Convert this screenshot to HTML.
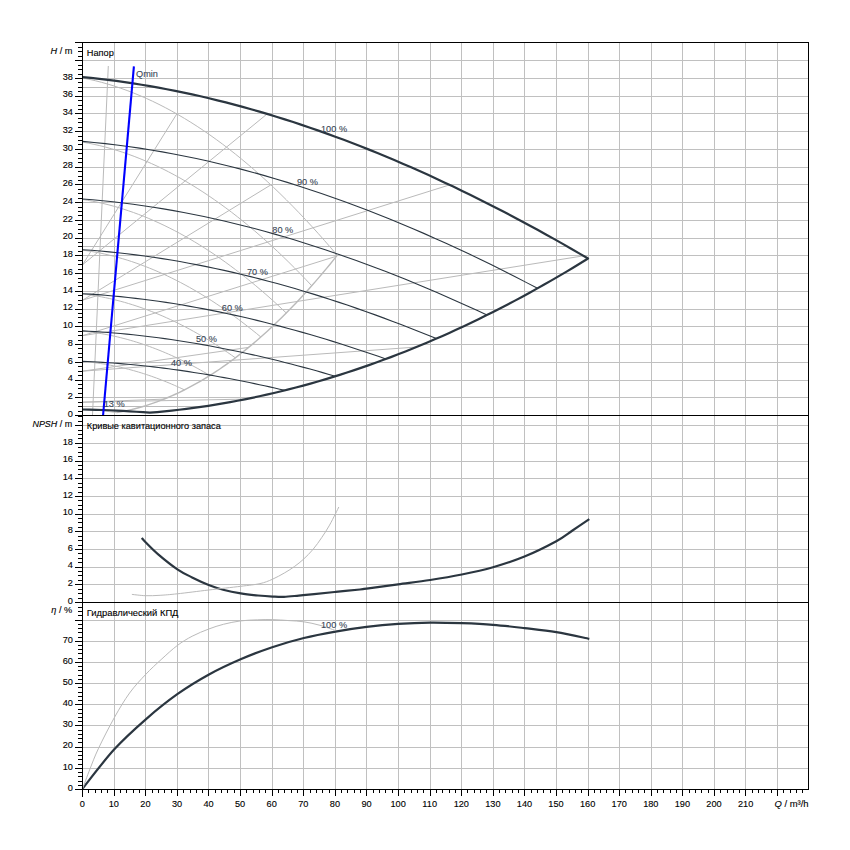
<!DOCTYPE html>
<html><head><meta charset="utf-8"><title>Pump curves</title>
<style>
html,body{margin:0;padding:0;background:#fff;}
body{width:850px;height:850px;position:relative;overflow:hidden;font-family:"Liberation Sans",sans-serif;}
#t div{font-family:"Liberation Sans",sans-serif;-webkit-text-stroke:0.12px currentColor;}
</style></head><body>
<svg width="850" height="850" viewBox="0 0 850 850" style="position:absolute;left:0;top:0">
<rect width="850" height="850" fill="#fff"/>
<path d="M114.5,42.5V789.5M145.5,42.5V789.5M177.5,42.5V789.5M208.5,42.5V789.5M240.5,42.5V789.5M272.5,42.5V789.5M303.5,42.5V789.5M335.5,42.5V789.5M366.5,42.5V789.5M398.5,42.5V789.5M430.5,42.5V789.5M461.5,42.5V789.5M493.5,42.5V789.5M524.5,42.5V789.5M556.5,42.5V789.5M588.5,42.5V789.5M619.5,42.5V789.5M651.5,42.5V789.5M682.5,42.5V789.5M714.5,42.5V789.5M745.5,42.5V789.5M777.5,42.5V789.5M82.5,397.5H808.5M82.5,380.5H808.5M82.5,362.5H808.5M82.5,344.5H808.5M82.5,326.5H808.5M82.5,309.5H808.5M82.5,291.5H808.5M82.5,273.5H808.5M82.5,255.5H808.5M82.5,238.5H808.5M82.5,220.5H808.5M82.5,202.5H808.5M82.5,184.5H808.5M82.5,167.5H808.5M82.5,149.5H808.5M82.5,131.5H808.5M82.5,113.5H808.5M82.5,96.5H808.5M82.5,78.5H808.5M82.5,60.5H808.5M82.5,584.5H808.5M82.5,567.5H808.5M82.5,549.5H808.5M82.5,531.5H808.5M82.5,514.5H808.5M82.5,496.5H808.5M82.5,478.5H808.5M82.5,461.5H808.5M82.5,443.5H808.5M82.5,425.5H808.5M82.5,768.5H808.5M82.5,747.5H808.5M82.5,725.5H808.5M82.5,704.5H808.5M82.5,683.5H808.5M82.5,662.5H808.5M82.5,641.5H808.5M82.5,620.5H808.5" stroke="#c0c0c0" stroke-width="1" fill="none" shape-rendering="crispEdges"/>
<path d="M116.46,412.67 L120.14,412.02 L123.82,411.30 L127.50,410.52 L131.18,409.67 L134.86,408.75 L138.54,407.77 L142.22,406.72 L145.90,405.60 L149.58,404.42 L153.26,403.17 L156.93,401.85 L160.61,400.46 L164.29,399.01 L167.97,397.49 L171.65,395.91 L175.33,394.25 L179.01,392.54 L182.69,390.75 L186.37,388.90 L190.05,386.98 L193.73,384.99 L197.41,382.94 L201.09,380.81 L204.76,378.63 L208.44,376.37 L212.12,374.05 L215.80,371.66 L219.48,369.21 L223.16,366.69 L226.84,364.10 L230.52,361.44 L234.20,358.72 L237.88,355.93 L241.56,353.07 L245.24,350.15 L248.91,347.16 L252.59,344.10 L256.27,340.98 L259.95,337.79 L263.63,334.53 L267.31,331.21 L270.99,327.81 L274.67,324.36 L278.35,320.83 L282.03,317.24 L285.71,313.58 L289.39,309.85 L293.07,306.06 L296.74,302.20 L300.42,298.27 L304.10,294.28 L307.78,290.22 L311.46,286.09 L315.14,281.90 L318.82,277.64 L322.50,273.31 L326.18,268.92 L329.86,264.45 L333.54,259.93 L337.22,255.33" stroke="#bababa" stroke-width="1.4" fill="none"/>
<path d="M82.60,77.97 L88.97,79.27 L95.33,80.73 L101.70,82.36 L108.06,84.16 L114.43,86.11 L120.79,88.24 L127.16,90.52 L133.52,92.97 L139.89,95.58 L146.25,98.36 L152.62,101.29 L158.98,104.39 L165.35,107.65 L171.72,111.07 L178.08,114.66 L184.45,118.40 L190.81,122.30 L197.18,126.36 L203.54,130.58 L209.91,134.96 L216.27,139.50 L222.64,144.20 L229.00,149.05 L235.37,154.06 L241.73,159.23 L248.10,164.55 L254.47,170.03 L260.83,175.67 L267.20,181.46 L273.56,187.41 L279.93,193.51 L286.29,199.77 L292.66,206.18 L299.02,212.74 L305.39,219.46 L311.75,226.33 L318.12,233.35 L324.48,240.53 L330.85,247.85 L337.22,255.33 M82.60,142.10 L88.33,143.15 L94.06,144.34 L99.79,145.66 L105.52,147.11 L111.24,148.70 L116.97,150.42 L122.70,152.27 L128.43,154.25 L134.16,156.37 L139.89,158.61 L145.62,160.99 L151.35,163.50 L157.08,166.14 L162.80,168.92 L168.53,171.82 L174.26,174.85 L179.99,178.01 L185.72,181.30 L191.45,184.72 L197.18,188.26 L202.91,191.94 L208.63,195.74 L214.36,199.68 L220.09,203.73 L225.82,207.92 L231.55,212.23 L237.28,216.67 L243.01,221.24 L248.74,225.93 L254.47,230.75 L260.19,235.69 L265.92,240.76 L271.65,245.95 L277.38,251.27 L283.11,256.71 L288.84,262.27 L294.57,267.96 L300.30,273.77 L306.03,279.71 L311.75,285.76 M82.60,199.48 L87.69,200.31 L92.78,201.25 L97.88,202.29 L102.97,203.44 L108.06,204.69 L113.15,206.05 L118.25,207.51 L123.34,209.08 L128.43,210.75 L133.52,212.53 L138.62,214.41 L143.71,216.39 L148.80,218.48 L153.89,220.67 L158.98,222.96 L164.08,225.35 L169.17,227.85 L174.26,230.45 L179.35,233.15 L184.45,235.96 L189.54,238.86 L194.63,241.87 L199.72,244.97 L204.82,248.18 L209.91,251.49 L215.00,254.89 L220.09,258.40 L225.18,262.01 L230.28,265.72 L235.37,269.52 L240.46,273.43 L245.55,277.43 L250.65,281.53 L255.74,285.73 L260.83,290.03 L265.92,294.43 L271.02,298.92 L276.11,303.52 L281.20,308.21 L286.29,312.99 M82.60,250.11 L87.06,250.75 L91.51,251.46 L95.97,252.26 L100.42,253.14 L104.88,254.10 L109.33,255.14 L113.79,256.26 L118.25,257.46 L122.70,258.74 L127.16,260.10 L131.61,261.54 L136.07,263.06 L140.53,264.66 L144.98,266.33 L149.44,268.09 L153.89,269.92 L158.35,271.83 L162.80,273.82 L167.26,275.89 L171.72,278.04 L176.17,280.26 L180.63,282.56 L185.08,284.94 L189.54,287.39 L193.99,289.93 L198.45,292.54 L202.91,295.22 L207.36,297.98 L211.82,300.82 L216.27,303.74 L220.73,306.73 L225.18,309.79 L229.64,312.93 L234.10,316.15 L238.55,319.44 L243.01,322.81 L247.46,326.25 L251.92,329.76 L256.38,333.35 L260.83,337.02 M82.60,293.99 L86.42,294.46 L90.24,294.98 L94.06,295.57 L97.88,296.22 L101.70,296.92 L105.52,297.68 L109.33,298.51 L113.15,299.39 L116.97,300.33 L120.79,301.33 L124.61,302.39 L128.43,303.50 L132.25,304.68 L136.07,305.91 L139.89,307.20 L143.71,308.54 L147.53,309.95 L151.35,311.41 L155.17,312.93 L158.98,314.51 L162.80,316.14 L166.62,317.83 L170.44,319.58 L174.26,321.38 L178.08,323.24 L181.90,325.16 L185.72,327.13 L189.54,329.16 L193.36,331.25 L197.18,333.39 L201.00,335.58 L204.82,337.84 L208.63,340.14 L212.45,342.51 L216.27,344.93 L220.09,347.40 L223.91,349.93 L227.73,352.51 L231.55,355.15 L235.37,357.84 M82.60,331.12 L85.78,331.44 L88.97,331.81 L92.15,332.22 L95.33,332.66 L98.51,333.15 L101.70,333.68 L104.88,334.26 L108.06,334.87 L111.24,335.52 L114.43,336.21 L117.61,336.95 L120.79,337.72 L123.98,338.54 L127.16,339.39 L130.34,340.29 L133.52,341.22 L136.71,342.20 L139.89,343.22 L143.07,344.27 L146.25,345.37 L149.44,346.50 L152.62,347.67 L155.80,348.89 L158.98,350.14 L162.17,351.43 L165.35,352.76 L168.53,354.13 L171.72,355.54 L174.90,356.99 L178.08,358.48 L181.26,360.00 L184.45,361.57 L187.63,363.17 L190.81,364.81 L193.99,366.49 L197.18,368.21 L200.36,369.96 L203.54,371.76 L206.73,373.59 L209.91,375.46 M82.60,361.50 L85.15,361.70 L87.69,361.94 L90.24,362.20 L92.78,362.48 L95.33,362.80 L97.88,363.14 L100.42,363.50 L102.97,363.90 L105.52,364.31 L108.06,364.76 L110.61,365.23 L113.15,365.72 L115.70,366.24 L118.25,366.79 L120.79,367.36 L123.34,367.96 L125.88,368.59 L128.43,369.24 L130.98,369.91 L133.52,370.61 L136.07,371.34 L138.62,372.09 L141.16,372.87 L143.71,373.67 L146.25,374.50 L148.80,375.35 L151.35,376.23 L153.89,377.13 L156.44,378.05 L158.98,379.01 L161.53,379.98 L164.08,380.98 L166.62,382.01 L169.17,383.06 L171.72,384.13 L174.26,385.23 L176.81,386.36 L179.35,387.50 L181.90,388.68 L184.45,389.87 M82.60,409.53 L83.45,409.55 L84.29,409.58 L85.14,409.61 L85.99,409.64 L86.83,409.67 L87.68,409.71 L88.53,409.75 L89.37,409.79 L90.22,409.84 L91.07,409.89 L91.91,409.94 L92.76,410.00 L93.61,410.05 L94.45,410.12 L95.30,410.18 L96.15,410.24 L96.99,410.31 L97.84,410.39 L98.69,410.46 L99.53,410.54 L100.38,410.62 L101.23,410.70 L102.07,410.79 L102.92,410.88 L103.76,410.97 L104.61,411.06 L105.46,411.16 L106.30,411.26 L107.15,411.36 L108.00,411.47 L108.84,411.57 L109.69,411.68 L110.54,411.80 L111.38,411.91 L112.23,412.03 L113.08,412.15 L113.92,412.28 L114.77,412.40 L115.62,412.53 L116.46,412.67 M82.60,402.19 L164.02,399.12 M82.60,402.19 L245.92,399.11 M82.60,371.15 L248.62,347.40 M82.60,371.15 L416.32,347.06 M82.60,335.67 L336.53,256.19 M82.60,335.67 L583.49,255.84 M82.60,300.19 L270.87,184.88 M82.60,300.19 L449.61,184.88 M82.60,264.71 L176.80,113.92 M82.60,264.71 L267.17,113.92 M82.60,406.50H202.74 M82.60,246.50H568.14 M82.60,87.50H156.63 M108.30,66.00 L92.50,415.00" stroke="#bababa" stroke-width="1" fill="none"/>
<path d="M82.60,141.40 L93.97,142.44 L105.34,143.64 L116.72,144.99 L128.09,146.49 L139.46,148.14 L150.83,149.93 L162.21,151.87 L173.58,153.95 L184.95,156.17 L196.32,158.54 L207.70,161.04 L219.07,163.69 L230.44,166.47 L241.81,169.39 L253.19,172.44 L264.56,175.62 L275.93,178.94 L287.30,182.38 L298.68,185.96 L310.05,189.66 L321.42,193.49 L332.79,197.44 L344.17,201.51 L355.54,205.71 L366.91,210.03 L378.28,214.47 L389.65,219.02 L401.03,223.69 L412.40,228.48 L423.77,233.38 L435.14,238.39 L446.52,243.52 L457.89,248.75 L469.26,254.09 L480.63,259.54 L492.01,265.09 L503.38,270.75 L514.75,276.51 L526.12,282.37 L537.50,288.33 M82.60,198.93 L92.71,199.75 L102.82,200.70 L112.93,201.76 L123.04,202.95 L133.14,204.25 L143.25,205.67 L153.36,207.20 L163.47,208.84 L173.58,210.60 L183.69,212.47 L193.80,214.45 L203.91,216.54 L214.01,218.73 L224.12,221.04 L234.23,223.45 L244.34,225.97 L254.45,228.59 L264.56,231.31 L274.67,234.13 L284.78,237.06 L294.88,240.08 L304.99,243.20 L315.10,246.42 L325.21,249.74 L335.32,253.15 L345.43,256.66 L355.54,260.26 L365.65,263.95 L375.76,267.73 L385.86,271.60 L395.97,275.56 L406.08,279.61 L416.19,283.75 L426.30,287.97 L436.41,292.27 L446.52,296.66 L456.63,301.13 L466.73,305.68 L476.84,310.31 L486.95,315.02 M82.60,249.69 L91.45,250.32 L100.29,251.04 L109.14,251.86 L117.98,252.77 L126.83,253.76 L135.67,254.85 L144.52,256.02 L153.36,257.28 L162.21,258.62 L171.05,260.05 L179.90,261.57 L188.74,263.17 L197.59,264.85 L206.43,266.62 L215.28,268.46 L224.12,270.39 L232.97,272.39 L241.81,274.48 L250.66,276.64 L259.50,278.88 L268.35,281.19 L277.19,283.59 L286.04,286.05 L294.88,288.59 L303.73,291.20 L312.58,293.89 L321.42,296.64 L330.27,299.47 L339.11,302.37 L347.96,305.33 L356.80,308.36 L365.65,311.46 L374.49,314.63 L383.34,317.86 L392.18,321.15 L401.03,324.51 L409.87,327.94 L418.72,331.42 L427.56,334.97 L436.41,338.57 M82.60,293.68 L90.18,294.14 L97.76,294.67 L105.34,295.27 L112.93,295.94 L120.51,296.67 L128.09,297.47 L135.67,298.33 L143.25,299.25 L150.83,300.24 L158.42,301.29 L166.00,302.41 L173.58,303.58 L181.16,304.82 L188.74,306.12 L196.32,307.47 L203.91,308.89 L211.49,310.36 L219.07,311.89 L226.65,313.48 L234.23,315.13 L241.81,316.83 L249.40,318.58 L256.98,320.40 L264.56,322.26 L272.14,324.18 L279.72,326.15 L287.30,328.18 L294.88,330.25 L302.47,332.38 L310.05,334.56 L317.63,336.79 L325.21,339.06 L332.79,341.39 L340.37,343.76 L347.96,346.18 L355.54,348.65 L363.12,351.17 L370.70,353.73 L378.28,356.33 L385.86,358.98 M82.60,330.90 L88.92,331.22 L95.24,331.59 L101.55,332.01 L107.87,332.47 L114.19,332.98 L120.51,333.53 L126.83,334.13 L133.14,334.77 L139.46,335.46 L145.78,336.19 L152.10,336.96 L158.42,337.78 L164.73,338.64 L171.05,339.54 L177.37,340.48 L183.69,341.46 L190.01,342.49 L196.32,343.55 L202.64,344.65 L208.96,345.80 L215.28,346.98 L221.60,348.20 L227.91,349.45 L234.23,350.75 L240.55,352.08 L246.87,353.45 L253.19,354.86 L259.50,356.30 L265.82,357.78 L272.14,359.29 L278.46,360.84 L284.78,362.42 L291.09,364.03 L297.41,365.68 L303.73,367.36 L310.05,369.08 L316.37,370.82 L322.68,372.60 L329.00,374.41 L335.32,376.25 M82.60,361.36 L87.65,361.56 L92.71,361.80 L97.76,362.07 L102.82,362.36 L107.87,362.69 L112.93,363.04 L117.98,363.42 L123.04,363.84 L128.09,364.27 L133.14,364.74 L138.20,365.24 L143.25,365.76 L148.31,366.31 L153.36,366.88 L158.42,367.49 L163.47,368.12 L168.52,368.77 L173.58,369.45 L178.63,370.16 L183.69,370.89 L188.74,371.65 L193.80,372.43 L198.85,373.23 L203.91,374.06 L208.96,374.91 L214.01,375.79 L219.07,376.69 L224.12,377.61 L229.18,378.56 L234.23,379.53 L239.29,380.52 L244.34,381.53 L249.40,382.56 L254.45,383.62 L259.50,384.69 L264.56,385.79 L269.61,386.91 L274.67,388.05 L279.72,389.20 L284.78,390.38" stroke="#2b3640" stroke-width="1.1" fill="none"/>
<path d="M82.60,77.10 L91.02,77.94 L99.45,78.87 L107.87,79.87 L116.30,80.96 L124.72,82.13 L133.14,83.39 L141.57,84.72 L149.99,86.14 L158.42,87.63 L166.84,89.21 L175.26,90.86 L183.69,92.60 L192.11,94.41 L200.54,96.30 L208.96,98.26 L217.38,100.31 L225.81,102.43 L234.23,104.62 L242.66,106.89 L251.08,109.24 L259.50,111.65 L267.93,114.15 L276.35,116.71 L284.78,119.35 L293.20,122.06 L301.62,124.85 L310.05,127.70 L318.47,130.62 L326.90,133.62 L335.32,136.68 L343.74,139.82 L352.17,143.02 L360.59,146.29 L369.02,149.63 L377.44,153.03 L385.86,156.50 L394.29,160.04 L402.71,163.64 L411.14,167.31 L419.56,171.04 L427.98,174.84 L436.41,178.70 L444.83,182.63 L453.26,186.61 L461.68,190.66 L470.10,194.77 L478.53,198.94 L486.95,203.18 L495.38,207.47 L503.80,211.82 L512.22,216.23 L520.65,220.70 L529.07,225.23 L537.50,229.81 L545.92,234.45 L554.34,239.15 L562.77,243.91 L571.19,248.72 L579.62,253.58 L588.04,258.50 L588.04,258.50 L580.74,263.01 L573.43,267.45 L566.13,271.82 L558.83,276.13 L551.52,280.37 L544.22,284.55 L536.91,288.66 L529.61,292.70 L522.31,296.68 L515.00,300.60 L507.70,304.45 L500.40,308.23 L493.09,311.95 L485.79,315.60 L478.49,319.19 L471.18,322.71 L463.88,326.16 L456.58,329.55 L449.27,332.88 L441.97,336.14 L434.66,339.33 L427.36,342.46 L420.06,345.52 L412.75,348.51 L405.45,351.45 L398.15,354.31 L390.84,357.11 L383.54,359.84 L376.24,362.51 L368.93,365.12 L361.63,367.65 L354.32,370.13 L347.02,372.53 L339.72,374.87 L332.41,377.15 L325.11,379.36 L317.81,381.50 L310.50,383.58 L303.20,385.59 L295.90,387.54 L288.59,389.42 L281.29,391.24 L273.98,392.99 L266.68,394.68 L259.38,396.30 L252.07,397.85 L244.77,399.34 L237.47,400.76 L230.16,402.12 L222.86,403.41 L215.56,404.64 L208.25,405.80 L200.95,406.89 L193.65,407.92 L186.34,408.89 L179.04,409.78 L171.73,410.62 L164.43,411.38 L157.13,412.09 L149.82,412.72 L149.82,412.72 L143.10,412.22 L136.38,411.74 L129.66,411.31 L122.93,410.92 L116.21,410.57 L109.49,410.26 L102.77,410.00 L96.04,409.79 L89.32,409.63 L82.60,409.51" stroke="#2b3640" stroke-width="2.2" fill="none" stroke-linejoin="round"/>
<path d="M133.9,66.3L103.1,415" stroke="#0000ff" stroke-width="2.1" fill="none"/>
<path d="M141.70,537.90 C142.35,538.62 142.85,539.47 145.60,542.20 C148.35,544.93 152.90,549.78 158.20,554.30 C163.50,558.82 171.75,565.45 177.40,569.30 C183.05,573.15 186.88,574.80 192.10,577.40 C197.32,580.00 203.37,582.80 208.70,584.90 C214.03,587.00 218.77,588.58 224.10,590.00 C229.43,591.42 235.05,592.48 240.70,593.40 C246.35,594.32 252.67,594.97 258.00,595.50 C263.33,596.03 268.37,596.37 272.70,596.60 C277.03,596.83 279.65,597.07 284.00,596.90 C288.35,596.73 293.78,596.07 298.80,595.60 C303.82,595.13 307.97,594.72 314.10,594.10 C320.23,593.48 327.95,592.67 335.60,591.90 C343.25,591.13 354.83,590.05 360.00,589.50 C365.17,588.95 360.25,589.47 366.60,588.60 C372.95,587.73 387.50,585.73 398.10,584.30 C408.70,582.87 419.58,581.63 430.20,580.00 C440.82,578.37 451.33,576.63 461.80,574.50 C472.27,572.37 482.55,570.20 493.00,567.20 C503.45,564.20 513.95,560.83 524.50,556.50 C535.05,552.17 548.30,545.53 556.30,541.20 C564.30,536.87 567.00,534.17 572.50,530.50 C578.00,526.83 586.50,521.08 589.30,519.20" stroke="#2b3640" stroke-width="2.2" fill="none" stroke-linejoin="round"/>
<path d="M131.90,594.40 C134.18,594.62 140.90,595.55 145.60,595.70 C150.30,595.85 154.80,595.62 160.10,595.30 C165.40,594.98 169.30,594.68 177.40,593.80 C185.50,592.92 198.15,591.25 208.70,590.00 C219.25,588.75 232.15,587.37 240.70,586.30 C249.25,585.23 254.73,584.77 260.00,583.60 C265.27,582.43 268.18,581.10 272.30,579.30 C276.42,577.50 280.98,574.95 284.70,572.80 C288.42,570.65 291.47,568.67 294.60,566.40 C297.73,564.13 300.42,562.05 303.50,559.20 C306.58,556.35 310.07,552.90 313.10,549.30 C316.13,545.70 319.03,541.50 321.70,537.60 C324.37,533.70 326.78,529.92 329.10,525.90 C331.42,521.88 333.98,516.65 335.60,513.50 C337.22,510.35 338.27,508.08 338.80,507.00" stroke="#bababa" stroke-width="1" fill="none" stroke-linejoin="round"/>
<path d="M82.50,788.60 C87.80,782.05 103.75,760.85 114.30,749.30 C124.85,737.75 135.30,728.48 145.80,719.30 C156.30,710.12 166.77,701.67 177.30,694.20 C187.83,686.73 198.45,680.32 209.00,674.50 C219.55,668.68 230.07,663.85 240.60,659.30 C251.13,654.75 261.65,650.75 272.20,647.20 C282.75,643.65 293.35,640.60 303.90,638.00 C314.45,635.40 325.05,633.45 335.50,631.60 C345.95,629.75 356.17,628.18 366.60,626.90 C377.03,625.62 387.50,624.62 398.10,623.90 C408.70,623.18 419.60,622.72 430.20,622.60 C440.80,622.48 451.23,622.83 461.70,623.20 C472.17,623.57 482.53,623.98 493.00,624.80 C503.47,625.62 513.95,626.88 524.50,628.10 C535.05,629.32 545.50,630.32 556.30,632.10 C567.10,633.88 583.80,637.68 589.30,638.80" stroke="#2b3640" stroke-width="2.2" fill="none" stroke-linejoin="round"/>
<path d="M82.50,789.00 C83.75,785.65 87.32,775.70 90.00,768.90 C92.68,762.10 94.53,756.77 98.60,748.20 C102.67,739.63 109.23,726.70 114.40,717.50 C119.57,708.30 124.40,700.17 129.60,693.00 C134.80,685.83 140.35,680.07 145.60,674.50 C150.85,668.93 155.82,664.43 161.10,659.60 C166.38,654.77 172.12,649.40 177.30,645.50 C182.48,641.60 186.95,638.95 192.20,636.20 C197.45,633.45 203.60,630.98 208.80,629.00 C214.00,627.02 218.10,625.65 223.40,624.30 C228.70,622.95 234.88,621.65 240.60,620.90 C246.32,620.15 252.40,620.02 257.70,619.80 C263.00,619.58 267.20,619.47 272.40,619.60 C277.60,619.73 283.65,620.23 288.90,620.60 C294.15,620.97 298.72,621.02 303.90,621.80 C309.08,622.58 314.75,623.85 320.00,625.30 C325.25,626.75 332.83,629.63 335.40,630.50" stroke="#bababa" stroke-width="1" fill="none" stroke-linejoin="round"/>
<path d="M75,42.5H809.0M75,415.5H809.0M75,602.5H809.0M75,789.5H809.0M808.5,42.0V790.0M75.0,415.5H82.5M78.0,411.5H82.5M78.0,406.5H82.5M78.0,402.5H82.5M75.0,397.5H82.5M78.0,393.5H82.5M78.0,388.5H82.5M78.0,384.5H82.5M75.0,380.5H82.5M78.0,375.5H82.5M78.0,371.5H82.5M78.0,366.5H82.5M75.0,362.5H82.5M78.0,357.5H82.5M78.0,353.5H82.5M78.0,348.5H82.5M75.0,344.5H82.5M78.0,340.5H82.5M78.0,335.5H82.5M78.0,331.5H82.5M75.0,326.5H82.5M78.0,322.5H82.5M78.0,317.5H82.5M78.0,313.5H82.5M75.0,309.5H82.5M78.0,304.5H82.5M78.0,300.5H82.5M78.0,295.5H82.5M75.0,291.5H82.5M78.0,286.5H82.5M78.0,282.5H82.5M78.0,278.5H82.5M75.0,273.5H82.5M78.0,269.5H82.5M78.0,264.5H82.5M78.0,260.5H82.5M75.0,255.5H82.5M78.0,251.5H82.5M78.0,246.5H82.5M78.0,242.5H82.5M75.0,238.5H82.5M78.0,233.5H82.5M78.0,229.5H82.5M78.0,224.5H82.5M75.0,220.5H82.5M78.0,215.5H82.5M78.0,211.5H82.5M78.0,207.5H82.5M75.0,202.5H82.5M78.0,198.5H82.5M78.0,193.5H82.5M78.0,189.5H82.5M75.0,184.5H82.5M78.0,180.5H82.5M78.0,176.5H82.5M78.0,171.5H82.5M75.0,167.5H82.5M78.0,162.5H82.5M78.0,158.5H82.5M78.0,153.5H82.5M75.0,149.5H82.5M78.0,144.5H82.5M78.0,140.5H82.5M78.0,136.5H82.5M75.0,131.5H82.5M78.0,127.5H82.5M78.0,122.5H82.5M78.0,118.5H82.5M75.0,113.5H82.5M78.0,109.5H82.5M78.0,105.5H82.5M78.0,100.5H82.5M75.0,96.5H82.5M78.0,91.5H82.5M78.0,87.5H82.5M78.0,82.5H82.5M75.0,78.5H82.5M78.0,74.5H82.5M78.0,69.5H82.5M78.0,65.5H82.5M75.0,60.5H82.5M78.0,56.5H82.5M78.0,51.5H82.5M78.0,47.5H82.5M75.0,602.5H82.5M78.0,598.5H82.5M78.0,593.5H82.5M78.0,589.5H82.5M75.0,584.5H82.5M78.0,580.5H82.5M78.0,575.5H82.5M78.0,571.5H82.5M75.0,567.5H82.5M78.0,562.5H82.5M78.0,558.5H82.5M78.0,553.5H82.5M75.0,549.5H82.5M78.0,545.5H82.5M78.0,540.5H82.5M78.0,536.5H82.5M75.0,531.5H82.5M78.0,527.5H82.5M78.0,522.5H82.5M78.0,518.5H82.5M75.0,514.5H82.5M78.0,509.5H82.5M78.0,505.5H82.5M78.0,500.5H82.5M75.0,496.5H82.5M78.0,492.5H82.5M78.0,487.5H82.5M78.0,483.5H82.5M75.0,478.5H82.5M78.0,474.5H82.5M78.0,469.5H82.5M78.0,465.5H82.5M75.0,461.5H82.5M78.0,456.5H82.5M78.0,452.5H82.5M78.0,447.5H82.5M75.0,443.5H82.5M78.0,438.5H82.5M78.0,434.5H82.5M78.0,430.5H82.5M75.0,425.5H82.5M78.0,421.5H82.5M78.0,416.5H82.5M75.0,789.5H82.5M78.0,785.5H82.5M78.0,781.5H82.5M78.0,776.5H82.5M78.0,772.5H82.5M75.0,768.5H82.5M78.0,764.5H82.5M78.0,759.5H82.5M78.0,755.5H82.5M78.0,751.5H82.5M75.0,747.5H82.5M78.0,742.5H82.5M78.0,738.5H82.5M78.0,734.5H82.5M78.0,730.5H82.5M75.0,725.5H82.5M78.0,721.5H82.5M78.0,717.5H82.5M78.0,713.5H82.5M78.0,709.5H82.5M75.0,704.5H82.5M78.0,700.5H82.5M78.0,696.5H82.5M78.0,692.5H82.5M78.0,687.5H82.5M75.0,683.5H82.5M78.0,679.5H82.5M78.0,675.5H82.5M78.0,670.5H82.5M78.0,666.5H82.5M75.0,662.5H82.5M78.0,658.5H82.5M78.0,653.5H82.5M78.0,649.5H82.5M78.0,645.5H82.5M75.0,641.5H82.5M78.0,637.5H82.5M78.0,632.5H82.5M78.0,628.5H82.5M78.0,624.5H82.5M75.0,620.5H82.5M78.0,615.5H82.5M78.0,611.5H82.5M78.0,607.5H82.5M82.5,789.5V796.0M88.5,789.5V793.0M95.5,789.5V793.0M101.5,789.5V793.0M107.5,789.5V793.0M114.5,789.5V796.0M120.5,789.5V793.0M126.5,789.5V793.0M133.5,789.5V793.0M139.5,789.5V793.0M145.5,789.5V796.0M152.5,789.5V793.0M158.5,789.5V793.0M164.5,789.5V793.0M171.5,789.5V793.0M177.5,789.5V796.0M183.5,789.5V793.0M190.5,789.5V793.0M196.5,789.5V793.0M202.5,789.5V793.0M208.5,789.5V796.0M215.5,789.5V793.0M221.5,789.5V793.0M227.5,789.5V793.0M234.5,789.5V793.0M240.5,789.5V796.0M246.5,789.5V793.0M253.5,789.5V793.0M259.5,789.5V793.0M265.5,789.5V793.0M272.5,789.5V796.0M278.5,789.5V793.0M284.5,789.5V793.0M291.5,789.5V793.0M297.5,789.5V793.0M303.5,789.5V796.0M310.5,789.5V793.0M316.5,789.5V793.0M322.5,789.5V793.0M329.5,789.5V793.0M335.5,789.5V796.0M341.5,789.5V793.0M347.5,789.5V793.0M354.5,789.5V793.0M360.5,789.5V793.0M366.5,789.5V796.0M373.5,789.5V793.0M379.5,789.5V793.0M385.5,789.5V793.0M392.5,789.5V793.0M398.5,789.5V796.0M404.5,789.5V793.0M411.5,789.5V793.0M417.5,789.5V793.0M423.5,789.5V793.0M430.5,789.5V796.0M436.5,789.5V793.0M442.5,789.5V793.0M449.5,789.5V793.0M455.5,789.5V793.0M461.5,789.5V796.0M467.5,789.5V793.0M474.5,789.5V793.0M480.5,789.5V793.0M486.5,789.5V793.0M493.5,789.5V796.0M499.5,789.5V793.0M505.5,789.5V793.0M512.5,789.5V793.0M518.5,789.5V793.0M524.5,789.5V796.0M531.5,789.5V793.0M537.5,789.5V793.0M543.5,789.5V793.0M550.5,789.5V793.0M556.5,789.5V796.0M562.5,789.5V793.0M569.5,789.5V793.0M575.5,789.5V793.0M581.5,789.5V793.0M588.5,789.5V796.0M594.5,789.5V793.0M600.5,789.5V793.0M606.5,789.5V793.0M613.5,789.5V793.0M619.5,789.5V796.0M625.5,789.5V793.0M632.5,789.5V793.0M638.5,789.5V793.0M644.5,789.5V793.0M651.5,789.5V796.0M657.5,789.5V793.0M663.5,789.5V793.0M670.5,789.5V793.0M676.5,789.5V793.0M682.5,789.5V796.0M689.5,789.5V793.0M695.5,789.5V793.0M701.5,789.5V793.0M708.5,789.5V793.0M714.5,789.5V796.0M720.5,789.5V793.0M727.5,789.5V793.0M733.5,789.5V793.0M739.5,789.5V793.0M745.5,789.5V796.0M752.5,789.5V793.0M758.5,789.5V793.0M764.5,789.5V793.0M771.5,789.5V793.0M777.5,789.5V796.0M783.5,789.5V793.0M790.5,789.5V793.0M796.5,789.5V793.0M802.5,789.5V793.0" stroke="#000" stroke-width="1" fill="none" shape-rendering="crispEdges"/>
<path d="M82.5,42.5V796.5" stroke="#000" stroke-width="1" fill="none" shape-rendering="crispEdges"/>
</svg>
<div id="t">
<div style="position:absolute;top:407.81px;font-size:9.20px;line-height:12px;color:#000;white-space:nowrap;right:777.1px;text-align:right;">0</div>
<div style="position:absolute;top:390.07px;font-size:9.20px;line-height:12px;color:#000;white-space:nowrap;right:777.1px;text-align:right;">2</div>
<div style="position:absolute;top:372.33px;font-size:9.20px;line-height:12px;color:#000;white-space:nowrap;right:777.1px;text-align:right;">4</div>
<div style="position:absolute;top:354.59px;font-size:9.20px;line-height:12px;color:#000;white-space:nowrap;right:777.1px;text-align:right;">6</div>
<div style="position:absolute;top:336.85px;font-size:9.20px;line-height:12px;color:#000;white-space:nowrap;right:777.1px;text-align:right;">8</div>
<div style="position:absolute;top:319.11px;font-size:9.20px;line-height:12px;color:#000;white-space:nowrap;right:777.1px;text-align:right;">10</div>
<div style="position:absolute;top:301.37px;font-size:9.20px;line-height:12px;color:#000;white-space:nowrap;right:777.1px;text-align:right;">12</div>
<div style="position:absolute;top:283.63px;font-size:9.20px;line-height:12px;color:#000;white-space:nowrap;right:777.1px;text-align:right;">14</div>
<div style="position:absolute;top:265.89px;font-size:9.20px;line-height:12px;color:#000;white-space:nowrap;right:777.1px;text-align:right;">16</div>
<div style="position:absolute;top:248.15px;font-size:9.20px;line-height:12px;color:#000;white-space:nowrap;right:777.1px;text-align:right;">18</div>
<div style="position:absolute;top:230.41px;font-size:9.20px;line-height:12px;color:#000;white-space:nowrap;right:777.1px;text-align:right;">20</div>
<div style="position:absolute;top:212.67px;font-size:9.20px;line-height:12px;color:#000;white-space:nowrap;right:777.1px;text-align:right;">22</div>
<div style="position:absolute;top:194.93px;font-size:9.20px;line-height:12px;color:#000;white-space:nowrap;right:777.1px;text-align:right;">24</div>
<div style="position:absolute;top:177.19px;font-size:9.20px;line-height:12px;color:#000;white-space:nowrap;right:777.1px;text-align:right;">26</div>
<div style="position:absolute;top:159.45px;font-size:9.20px;line-height:12px;color:#000;white-space:nowrap;right:777.1px;text-align:right;">28</div>
<div style="position:absolute;top:141.71px;font-size:9.20px;line-height:12px;color:#000;white-space:nowrap;right:777.1px;text-align:right;">30</div>
<div style="position:absolute;top:123.97px;font-size:9.20px;line-height:12px;color:#000;white-space:nowrap;right:777.1px;text-align:right;">32</div>
<div style="position:absolute;top:106.23px;font-size:9.20px;line-height:12px;color:#000;white-space:nowrap;right:777.1px;text-align:right;">34</div>
<div style="position:absolute;top:88.49px;font-size:9.20px;line-height:12px;color:#000;white-space:nowrap;right:777.1px;text-align:right;">36</div>
<div style="position:absolute;top:70.75px;font-size:9.20px;line-height:12px;color:#000;white-space:nowrap;right:777.1px;text-align:right;">38</div>
<div style="position:absolute;top:594.81px;font-size:9.20px;line-height:12px;color:#000;white-space:nowrap;right:777.1px;text-align:right;">0</div>
<div style="position:absolute;top:577.13px;font-size:9.20px;line-height:12px;color:#000;white-space:nowrap;right:777.1px;text-align:right;">2</div>
<div style="position:absolute;top:559.45px;font-size:9.20px;line-height:12px;color:#000;white-space:nowrap;right:777.1px;text-align:right;">4</div>
<div style="position:absolute;top:541.77px;font-size:9.20px;line-height:12px;color:#000;white-space:nowrap;right:777.1px;text-align:right;">6</div>
<div style="position:absolute;top:524.09px;font-size:9.20px;line-height:12px;color:#000;white-space:nowrap;right:777.1px;text-align:right;">8</div>
<div style="position:absolute;top:506.41px;font-size:9.20px;line-height:12px;color:#000;white-space:nowrap;right:777.1px;text-align:right;">10</div>
<div style="position:absolute;top:488.73px;font-size:9.20px;line-height:12px;color:#000;white-space:nowrap;right:777.1px;text-align:right;">12</div>
<div style="position:absolute;top:471.05px;font-size:9.20px;line-height:12px;color:#000;white-space:nowrap;right:777.1px;text-align:right;">14</div>
<div style="position:absolute;top:453.37px;font-size:9.20px;line-height:12px;color:#000;white-space:nowrap;right:777.1px;text-align:right;">16</div>
<div style="position:absolute;top:435.69px;font-size:9.20px;line-height:12px;color:#000;white-space:nowrap;right:777.1px;text-align:right;">18</div>
<div style="position:absolute;top:781.81px;font-size:9.20px;line-height:12px;color:#000;white-space:nowrap;right:777.1px;text-align:right;">0</div>
<div style="position:absolute;top:760.63px;font-size:9.20px;line-height:12px;color:#000;white-space:nowrap;right:777.1px;text-align:right;">10</div>
<div style="position:absolute;top:739.45px;font-size:9.20px;line-height:12px;color:#000;white-space:nowrap;right:777.1px;text-align:right;">20</div>
<div style="position:absolute;top:718.27px;font-size:9.20px;line-height:12px;color:#000;white-space:nowrap;right:777.1px;text-align:right;">30</div>
<div style="position:absolute;top:697.09px;font-size:9.20px;line-height:12px;color:#000;white-space:nowrap;right:777.1px;text-align:right;">40</div>
<div style="position:absolute;top:675.91px;font-size:9.20px;line-height:12px;color:#000;white-space:nowrap;right:777.1px;text-align:right;">50</div>
<div style="position:absolute;top:654.73px;font-size:9.20px;line-height:12px;color:#000;white-space:nowrap;right:777.1px;text-align:right;">60</div>
<div style="position:absolute;top:633.55px;font-size:9.20px;line-height:12px;color:#000;white-space:nowrap;right:777.1px;text-align:right;">70</div>
<div style="position:absolute;top:797.61px;font-size:9.20px;line-height:12px;color:#000;white-space:nowrap;left:52.2px;width:60px;text-align:center;">0</div>
<div style="position:absolute;top:797.61px;font-size:9.20px;line-height:12px;color:#000;white-space:nowrap;left:83.8px;width:60px;text-align:center;">10</div>
<div style="position:absolute;top:797.61px;font-size:9.20px;line-height:12px;color:#000;white-space:nowrap;left:115.4px;width:60px;text-align:center;">20</div>
<div style="position:absolute;top:797.61px;font-size:9.20px;line-height:12px;color:#000;white-space:nowrap;left:147.0px;width:60px;text-align:center;">30</div>
<div style="position:absolute;top:797.61px;font-size:9.20px;line-height:12px;color:#000;white-space:nowrap;left:178.6px;width:60px;text-align:center;">40</div>
<div style="position:absolute;top:797.61px;font-size:9.20px;line-height:12px;color:#000;white-space:nowrap;left:210.1px;width:60px;text-align:center;">50</div>
<div style="position:absolute;top:797.61px;font-size:9.20px;line-height:12px;color:#000;white-space:nowrap;left:241.7px;width:60px;text-align:center;">60</div>
<div style="position:absolute;top:797.61px;font-size:9.20px;line-height:12px;color:#000;white-space:nowrap;left:273.3px;width:60px;text-align:center;">70</div>
<div style="position:absolute;top:797.61px;font-size:9.20px;line-height:12px;color:#000;white-space:nowrap;left:304.9px;width:60px;text-align:center;">80</div>
<div style="position:absolute;top:797.61px;font-size:9.20px;line-height:12px;color:#000;white-space:nowrap;left:336.5px;width:60px;text-align:center;">90</div>
<div style="position:absolute;top:797.61px;font-size:9.20px;line-height:12px;color:#000;white-space:nowrap;left:368.1px;width:60px;text-align:center;">100</div>
<div style="position:absolute;top:797.61px;font-size:9.20px;line-height:12px;color:#000;white-space:nowrap;left:399.7px;width:60px;text-align:center;">110</div>
<div style="position:absolute;top:797.61px;font-size:9.20px;line-height:12px;color:#000;white-space:nowrap;left:431.3px;width:60px;text-align:center;">120</div>
<div style="position:absolute;top:797.61px;font-size:9.20px;line-height:12px;color:#000;white-space:nowrap;left:462.9px;width:60px;text-align:center;">130</div>
<div style="position:absolute;top:797.61px;font-size:9.20px;line-height:12px;color:#000;white-space:nowrap;left:494.5px;width:60px;text-align:center;">140</div>
<div style="position:absolute;top:797.61px;font-size:9.20px;line-height:12px;color:#000;white-space:nowrap;left:526.0px;width:60px;text-align:center;">150</div>
<div style="position:absolute;top:797.61px;font-size:9.20px;line-height:12px;color:#000;white-space:nowrap;left:557.6px;width:60px;text-align:center;">160</div>
<div style="position:absolute;top:797.61px;font-size:9.20px;line-height:12px;color:#000;white-space:nowrap;left:589.2px;width:60px;text-align:center;">170</div>
<div style="position:absolute;top:797.61px;font-size:9.20px;line-height:12px;color:#000;white-space:nowrap;left:620.8px;width:60px;text-align:center;">180</div>
<div style="position:absolute;top:797.61px;font-size:9.20px;line-height:12px;color:#000;white-space:nowrap;left:652.4px;width:60px;text-align:center;">190</div>
<div style="position:absolute;top:797.61px;font-size:9.20px;line-height:12px;color:#000;white-space:nowrap;left:684.0px;width:60px;text-align:center;">200</div>
<div style="position:absolute;top:797.61px;font-size:9.20px;line-height:12px;color:#000;white-space:nowrap;left:715.6px;width:60px;text-align:center;">210</div>
<div style="position:absolute;top:44.61px;font-size:9.20px;line-height:12px;color:#000;white-space:nowrap;right:777.5px;text-align:right;"><i>H</i> / m</div>
<div style="position:absolute;top:417.70px;font-size:8.95px;line-height:12px;color:#000;white-space:nowrap;right:777.8px;text-align:right;"><i>NPSH</i> / m</div>
<div style="position:absolute;top:604.21px;font-size:9.20px;line-height:12px;color:#000;white-space:nowrap;right:777.8px;text-align:right;"><i>&eta;</i> / %</div>
<div style="position:absolute;top:797.53px;font-size:9.45px;line-height:12px;color:#000;white-space:nowrap;right:41.4px;text-align:right;"><i>Q</i> / m&sup3;/h</div>
<div style="position:absolute;top:47.11px;font-size:9.20px;line-height:12px;color:#000;white-space:nowrap;left:86.8px;">Напор</div>
<div style="position:absolute;top:419.81px;font-size:9.20px;line-height:12px;color:#000;white-space:nowrap;left:86.8px;">Кривые кавитационного запаса</div>
<div style="position:absolute;top:606.75px;font-size:9.38px;line-height:12px;color:#000;white-space:nowrap;left:86.8px;">Гидравлический КПД</div>
<div style="position:absolute;top:67.71px;font-size:9.20px;line-height:12px;color:#3b4858;white-space:nowrap;left:136.0px;">Qmin</div>
<div style="position:absolute;top:123.01px;font-size:9.20px;line-height:12px;color:#3b4858;white-space:nowrap;left:321.0px;">100 %</div>
<div style="position:absolute;top:176.01px;font-size:9.20px;line-height:12px;color:#3b4858;white-space:nowrap;left:297.0px;">90 %</div>
<div style="position:absolute;top:223.61px;font-size:9.20px;line-height:12px;color:#3b4858;white-space:nowrap;left:272.3px;">80 %</div>
<div style="position:absolute;top:266.01px;font-size:9.20px;line-height:12px;color:#3b4858;white-space:nowrap;left:247.0px;">70 %</div>
<div style="position:absolute;top:302.01px;font-size:9.20px;line-height:12px;color:#3b4858;white-space:nowrap;left:221.8px;">60 %</div>
<div style="position:absolute;top:333.01px;font-size:9.20px;line-height:12px;color:#3b4858;white-space:nowrap;left:196.0px;">50 %</div>
<div style="position:absolute;top:357.01px;font-size:9.20px;line-height:12px;color:#3b4858;white-space:nowrap;left:171.0px;">40 %</div>
<div style="position:absolute;top:397.81px;font-size:9.20px;line-height:12px;color:#3b4858;white-space:nowrap;left:103.7px;">13 %</div>
<div style="position:absolute;top:619.01px;font-size:9.20px;line-height:12px;color:#3b4858;white-space:nowrap;left:321.0px;">100 %</div>
</div>
</body></html>
